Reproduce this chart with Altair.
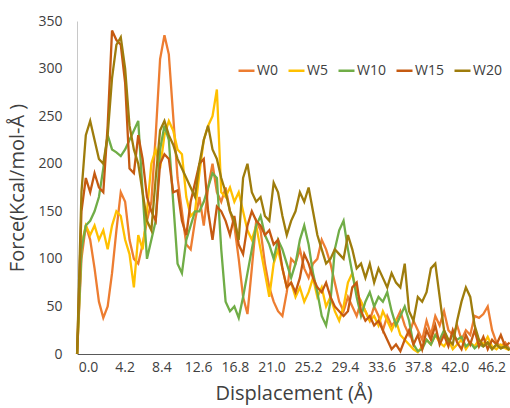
import altair as alt
import pandas as pd

# Displacement grid (Å), sampled every 0.5 Å
displacement = [round(-1.25 + 0.5 * i, 2) for i in range(100)]

series_names = ["W0", "W5", "W10", "W15", "W20"]
series_colors = ["#ED7D31", "#FFC000", "#70AD47", "#C55A11", "#9E7C0C"]

w0 = [0, 100, 135, 120, 90, 55, 38, 50, 85, 130,
      170, 160, 120, 100, 95, 115, 140, 160, 230, 310,
      335, 315, 250, 185, 150, 115, 110, 140, 165, 135,
      175, 200, 170, 160, 175, 150, 135, 100, 60, 42,
      90, 140, 130, 95, 70, 55, 45, 40, 65, 100,
      95, 110, 90, 80, 95, 100, 120, 110, 95, 75,
      55, 45, 60, 50, 40, 55, 45, 35, 50, 40,
      25, 40, 30, 35, 45, 30, 20, 35, 25, 15,
      35, 20, 40, 30, 45, 25, 20, 30, 15, 25,
      20, 40, 38, 42, 50, 25, 12, 8, 12, 5]

w5 = [0, 115, 135, 125, 135, 120, 130, 110, 135, 150,
      145, 120, 105, 70, 125, 110, 150, 200, 215, 195,
      230, 245, 235, 215, 210, 165, 145, 150, 190, 225,
      240, 250, 278, 170, 165, 175, 160, 170, 150, 130,
      120, 135, 110, 85, 60, 95, 110, 90, 70, 75,
      60, 70, 55, 65, 80, 60, 70, 50, 60, 45,
      35, 50, 75, 85, 65, 55, 45, 35, 40, 30,
      45, 35, 25, 35, 20, 15, 10, 5, 2, 8,
      15, 10, 20, 12, 8, 15, 5, 10, 15, 5,
      12, 8, 15, 10, 18, 8, 5, 10, 6, 4]

w10 = [0, 110, 135, 140, 150, 165, 195, 230, 215, 212,
       208, 215, 225, 235, 245, 170, 100, 120, 140, 215,
       240, 225, 160, 95, 85, 120, 135, 150, 150, 160,
       175, 190, 185, 110, 55, 45, 50, 38, 60, 85,
       110, 135, 145, 125, 115, 100, 120, 110, 95, 80,
       95, 120, 135, 115, 85, 65, 40, 30, 55, 110,
       130, 140, 110, 85, 60, 40, 55, 65, 50, 60,
       55, 65, 45, 30, 40, 50, 35, 10, 3, 5,
       15, 10, 20, 15, 25, 12, 20, 15, 18, 8,
       12, 6, 10, 8, 12, 5, 10, 6, 8, 5]

w15 = [0, 150, 185, 170, 190, 175, 170, 240, 340, 330,
       325, 285, 195, 190, 230, 205, 165, 150, 140, 200,
       210, 205, 170, 172, 140, 125, 160, 180, 200, 205,
       150, 120, 155, 150, 140, 125, 145, 115, 105, 135,
       150, 140, 135, 125, 130, 115, 120, 90, 70, 75,
       65, 80, 105, 95, 80, 70, 65, 75, 60, 50,
       45, 40, 45, 70, 75, 45, 35, 40, 30, 35,
       25, 15, 5, 10, 3, 15, 25, 10, 20, 5,
       25, 15, 30, 10, 20, 8, 25, 12, 5, 20,
       10, 25, 8, 18, 5, 15, 10, 20, 8, 12]

w20 = [0, 170, 230, 245, 225, 205, 200, 230, 290, 325,
       333, 300, 240, 215, 200, 170, 140, 130, 185, 235,
       245, 230, 220, 205, 195, 185, 175, 165, 200, 225,
       240, 215, 205, 185, 170, 150, 140, 120, 185, 200,
       170, 160, 165, 145, 140, 180, 170, 145, 125, 140,
       150, 170, 160, 175, 150, 125, 110, 95, 100, 110,
       105, 100, 125, 110, 90, 95, 80, 95, 75, 90,
       80, 70, 85, 75, 70, 95, 45, 35, 60, 55,
       65, 90, 95, 60, 25, 15, 10, 35, 55, 70,
       60, 30, 15, 8, 12, 5, 10, 6, 8, 4]

values = [w0, w5, w10, w15, w20]

rows = []
for name, vals in zip(series_names, values):
    for x, y in zip(displacement, vals):
        rows.append({"Displacement": x, "Force": y, "Series": name})
df = pd.DataFrame(rows)

tick_values = [0.0, 4.2, 8.4, 12.6, 16.8, 21.0, 25.2, 29.4, 33.6, 37.8, 42.0, 46.2]
y_ticks = [0, 50, 100, 150, 200, 250, 300, 350]

FONT = "Open Sans"

x_enc = alt.X(
    "Displacement:Q",
    scale=alt.Scale(domain=[-1.26, 48.3], nice=False, zero=False),
    axis=alt.Axis(
        values=tick_values, format=".1f", title="Displacement (Å)",
        grid=False, ticks=False, labelPadding=6, titlePadding=9,
        domainColor="#595959", domainWidth=1,
    ),
)
y_enc = alt.Y(
    "Force:Q",
    scale=alt.Scale(domain=[0, 350], nice=False),
    axis=alt.Axis(
        values=y_ticks, title="Force(Kcal/mol-Å )", grid=False, ticks=False,
        labelPadding=15, titlePadding=10, domainColor="#c8c8c8",
    ),
)
color_enc = alt.Color(
    "Series:N",
    scale=alt.Scale(domain=series_names, range=series_colors),
    legend=alt.Legend(
        orient="none", legendX=160, legendY=40, direction="horizontal",
        title=None, symbolType="stroke", symbolStrokeWidth=2.5,
        symbolSize=256, labelFontSize=14, labelFont=FONT,
        labelColor="#404040", columnPadding=5, labelOffset=1, padding=0,
    ),
)

layers = []
for name in series_names:
    layers.append(
        alt.Chart(df)
        .transform_filter(alt.datum.Series == name)
        .mark_line(strokeWidth=2.3)
        .encode(x=x_enc, y=y_enc, color=color_enc)
    )

chart = (
    alt.layer(*layers)
    .properties(
        width=433, height=333,
        autosize=alt.AutoSizeParams(type="none"),
        padding={"left": 77, "top": 21, "right": 0, "bottom": 54},
    )
    .configure_view(stroke=None)
    .configure_axis(
        labelFont=FONT, titleFont=FONT, labelFontSize=14, titleFontSize=20,
        labelColor="#404040", titleColor="#404040", titleFontWeight="normal",
    )
)

chart.save("out.html", embed_options={"renderer": "svg", "actions": False})
